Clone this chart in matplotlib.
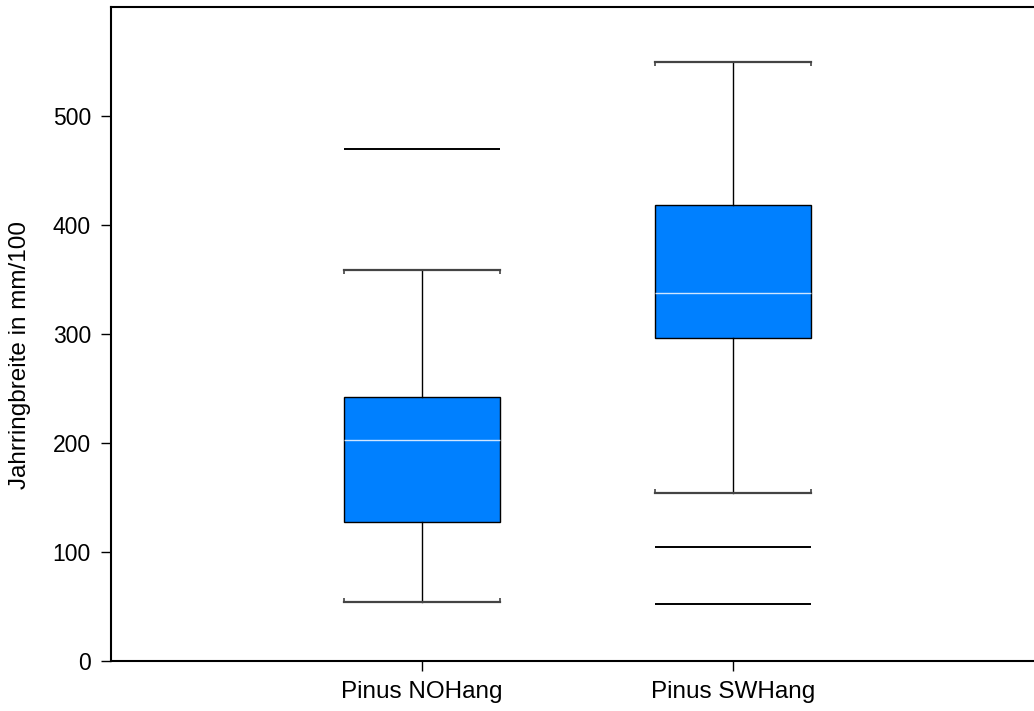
import matplotlib.pyplot as plt

plt.rcParams['font.family'] = ['Liberation Sans', 'DejaVu Sans']

labels = ['Pinus NOHang', 'Pinus SWHang']
q1 = [127.5, 296]
med = [203, 337.5]
q3 = [242, 418]
wlo = [54, 154]
whi = [359, 549.5]
outliers = [[470], [104.5, 52]]

positions = [1, 2]
width = 0.5

fig = plt.figure(figsize=(10.34, 7.11), dpi=100)
ax = fig.add_axes([0.1074, 0.0703, 0.9026, 0.9199])

stats = []
for i in range(2):
    stats.append(dict(q1=q1[i], med=med[i], q3=q3[i], whislo=wlo[i], whishi=whi[i],
                      fliers=[], label=labels[i]))

ax.bxp(stats, positions=positions, widths=width, patch_artist=True, showfliers=False,
       boxprops=dict(facecolor='#0080ff', edgecolor='black', linewidth=1.0),
       medianprops=dict(color='#cfe6ff', linewidth=1.0),
       whiskerprops=dict(color='black', linewidth=1.0),
       capprops=dict(color='#444444', linewidth=1.6), capwidths=width)

# small end ticks on the caps, pointing towards the box
tick = 4.0
for i, p in enumerate(positions):
    for x in (p - width / 2, p + width / 2):
        ax.vlines(x, whi[i] - tick, whi[i], color='#444444', linewidth=1.2)
        ax.vlines(x, wlo[i], wlo[i] + tick, color='#444444', linewidth=1.2)
    for o in outliers[i]:
        ax.hlines(o, p - width / 2, p + width / 2, color='black', linewidth=1.4)

ax.set_xlim(0, 3)
ax.set_ylim(0, 600)
ax.set_yticks([0, 100, 200, 300, 400, 500])
ax.set_xticks(positions)
ax.set_xticklabels(labels)
ax.set_ylabel('Jahrringbreite in mm/100', fontsize=17.5)
ax.yaxis.set_label_coords(-0.0975, 0.468)
ax.yaxis.label.set_verticalalignment('center')
ax.tick_params(axis='both', length=7.5, width=1, color='black', direction='out')
ax.tick_params(axis='y', labelsize=16.5, pad=7)
ax.tick_params(axis='x', labelsize=17.5, pad=7)
ax.spines['right'].set_visible(False)
for s in ['left', 'bottom', 'top']:
    ax.spines[s].set_linewidth(1.5)

fig.savefig('out.png', dpi=100)
